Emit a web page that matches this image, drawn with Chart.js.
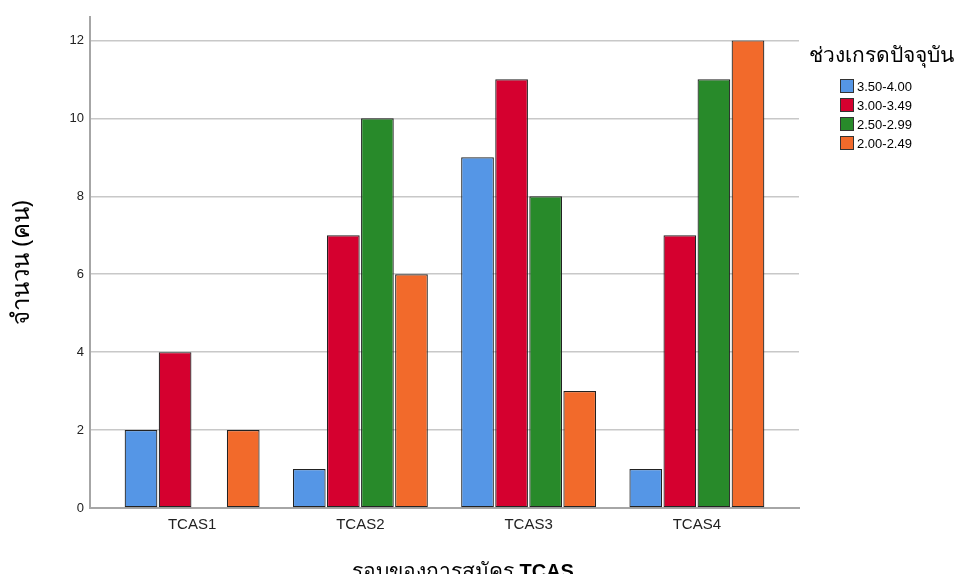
<!DOCTYPE html>
<html>
<head>
<meta charset="utf-8">
<script src="https://cdn.jsdelivr.net/npm/chart.js@4"></script>
<style>
  body { margin: 0; background: #fff; }
  #wrap { width: 959px; height: 574px; }
</style>
</head>
<body>
<div id="wrap"><canvas id="myChart" width="959" height="574"></canvas></div>
<script>
let rounds = ['TCAS1', 'TCAS2', 'TCAS3', 'TCAS4']
let gradeRanges = ['3.50-4.00', '3.00-3.49', '2.50-2.99', '2.00-2.49']
let grade350 = [2, 1, 9, 1]
let grade300 = [4, 7, 11, 7]
let grade250 = [0, 10, 8, 11]
let grade200 = [2, 6, 3, 12]
let yTicks = [0, 2, 4, 6, 8, 10, 12]
let colors = ['#5596e6', '#d5002f', '#288a2a', '#f26a2b']

let seriesValues = [grade350, grade300, grade250, grade200]
let thaiFont = "'Noto Sans', 'DejaVu Sans', sans-serif"

let legendPlugin = {
    id: 'sideLegend',
    afterDraw(chart) {
        let c = chart.ctx
        c.save()
        c.fillStyle = '#000'
        c.textBaseline = 'alphabetic'
        c.font = '21px ' + thaiFont
        c.fillText('ช่วงเกรดปัจจุบัน', 809, 62)
        c.font = '13px "Liberation Sans", Arial, sans-serif'
        c.textBaseline = 'middle'
        chart.data.datasets.forEach((ds, i) => {
            let y = 86 + i * 19
            c.fillStyle = ds.backgroundColor
            c.fillRect(840, y - 7, 14, 14)
            c.strokeStyle = '#333'
            c.lineWidth = 1
            c.strokeRect(840.5, y - 6.5, 13, 13)
            c.fillStyle = '#000'
            c.fillText(ds.label, 857, y + 1)
        })
        // x axis title
        c.textBaseline = 'alphabetic'
        c.font = '21px ' + thaiFont
        let part1 = 'รอบของการสมัคร '
        let w1 = c.measureText(part1).width
        c.font = 'bold 20px "Liberation Sans", Arial, sans-serif'
        let w2 = c.measureText('TCAS').width
        let x0 = 463 - (w1 + w2) / 2
        c.font = '21px ' + thaiFont
        c.fillText(part1, x0, 578)
        c.font = 'bold 20px "Liberation Sans", Arial, sans-serif'
        c.fillText('TCAS', x0 + w1, 578)
        c.restore()
    }
}

let ctx = document.getElementById('myChart').getContext('2d')

let myChart = new Chart(ctx, {
    type: 'bar',
    data: {
        datasets: gradeRanges.map((g, i) => ({
            label: g,
            data: seriesValues[i].map((v, j) => ({ x: j, y: v })),
            backgroundColor: colors[i],
            borderColor: '#222222',
            borderWidth: 1.2,
            borderSkipped: false,
            categoryPercentage: 0.81,
            barPercentage: 0.96
        }))
    },
    options: {
        responsive: false,
        animation: false,
        layout: { padding: { left: 0, right: 160, top: 17, bottom: 0 } },
        plugins: {
            legend: { display: false },
            tooltip: { enabled: false }
        },
        scales: {
            x: {
                type: 'linear',
                offset: false,
                min: -0.607,
                max: 3.607,
                afterBuildTicks: s => { s.ticks = rounds.map((r, i) => ({ value: i })) },
                afterFit: s => { s.height = 66 },
                grid: { display: false, drawTicks: false },
                border: { color: '#a6a6a6', width: 2 },
                ticks: {
                    padding: 8,
                    color: '#222',
                    font: { family: '"Liberation Sans", Arial, sans-serif', size: 15 },
                    callback: v => rounds[v]
                }
            },
            y: {
                min: 0,
                max: 12.6,
                afterBuildTicks: s => { s.ticks = yTicks.map(v => ({ value: v })) },
                afterFit: s => { s.width = 90 },
                grid: { color: '#c8c8c8', lineWidth: 1.5, drawTicks: false },
                border: { color: '#a6a6a6', width: 2 },
                ticks: {
                    padding: 6,
                    color: '#222',
                    font: { family: '"Liberation Sans", Arial, sans-serif', size: 13 }
                },
                title: {
                    display: true,
                    text: 'จำนวน (คน)',
                    color: '#000',
                    padding: { top: 8 },
                    font: { family: thaiFont, size: 24, weight: 'normal' }
                }
            }
        }
    },
    plugins: [legendPlugin]
})
</script>
</body>
</html>
